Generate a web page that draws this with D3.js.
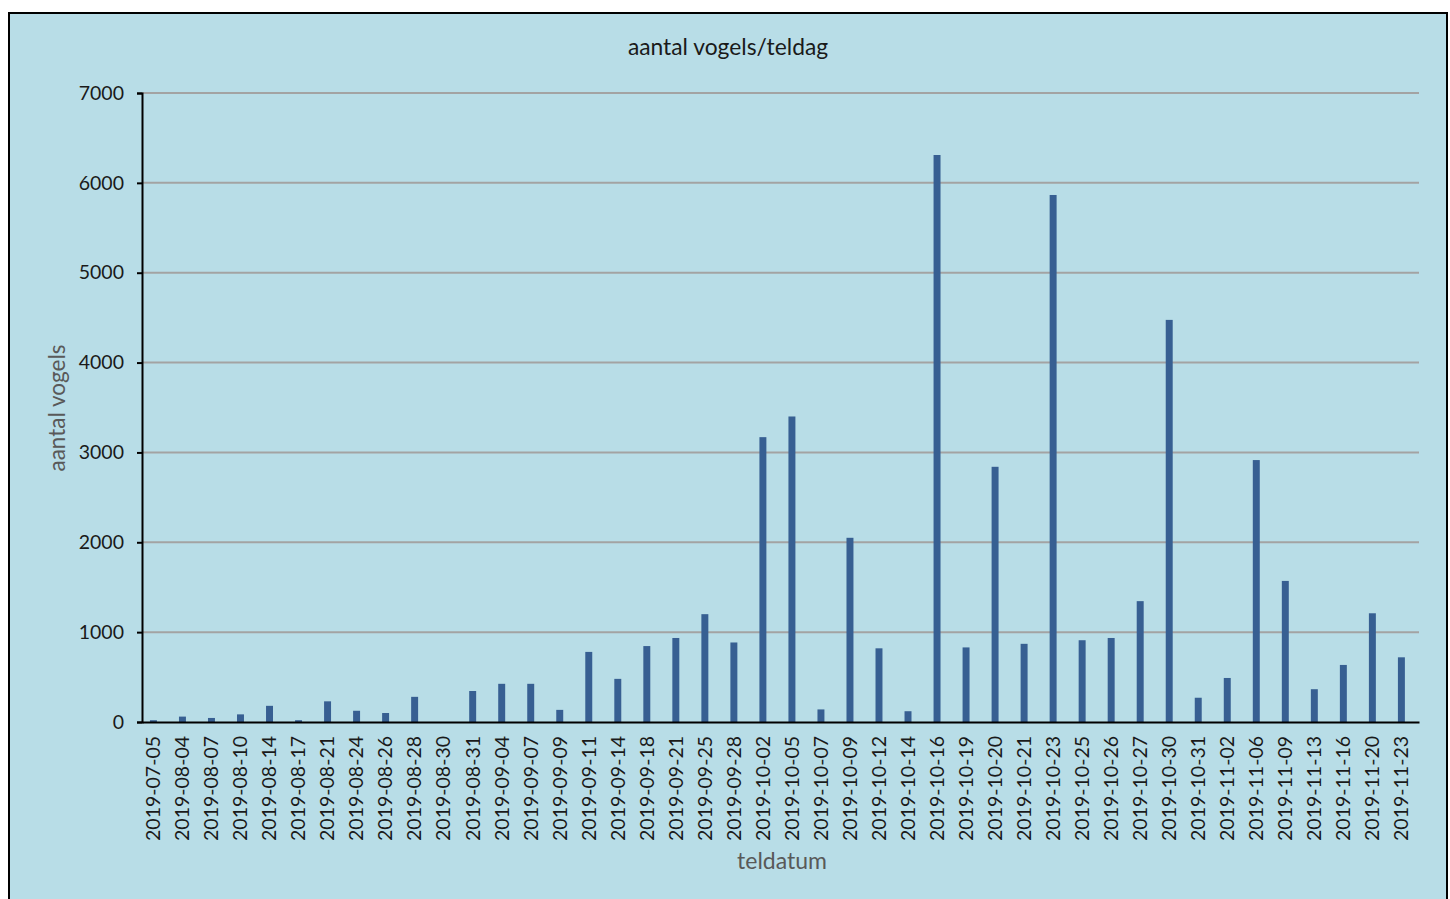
<!DOCTYPE html>
<html>
<head>
<meta charset="utf-8">
<script src="https://cdn.jsdelivr.net/npm/d3@7"></script>
<style>
  body { margin: 0; background: #fff; }
  text { font-family: Lato, "Open Sans", sans-serif; }
</style>
</head>
<body>
<svg id="chart" width="1450" height="899"></svg>
<script>
// teldagen en aantallen
const dates = [
  '2019-07-05', '2019-08-04', '2019-08-07', '2019-08-10', '2019-08-14', '2019-08-17',
  '2019-08-21', '2019-08-24', '2019-08-26', '2019-08-28', '2019-08-30', '2019-08-31',
  '2019-09-04', '2019-09-07', '2019-09-09', '2019-09-11', '2019-09-14', '2019-09-18',
  '2019-09-21', '2019-09-25', '2019-09-28', '2019-10-02', '2019-10-05', '2019-10-07',
  '2019-10-09', '2019-10-12', '2019-10-14', '2019-10-16', '2019-10-19', '2019-10-20',
  '2019-10-21', '2019-10-23', '2019-10-25', '2019-10-26', '2019-10-27', '2019-10-30',
  '2019-10-31', '2019-11-02', '2019-11-06', '2019-11-09', '2019-11-13', '2019-11-16',
  '2019-11-20', '2019-11-23'
];
const birds = [
  20, 60, 45, 85, 180, 20, 230, 125, 100, 280, 0, 345,
  425, 425, 135, 780, 480, 845, 935, 1200, 885, 3170, 3400, 140,
  2050, 820, 120, 6310, 830, 2840, 870, 5865, 910, 935, 1345, 4475,
  270, 490, 2915, 1570, 365, 635, 1210, 720
];
const yTicks = [0, 1000, 2000, 3000, 4000, 5000, 6000, 7000];

const svg = d3.select('#chart');

// achtergrond + kader
svg.append('rect')
  .attr('x', 9).attr('y', 13)
  .attr('width', 1438).attr('height', 900)
  .attr('fill', '#b8dde7')
  .attr('stroke', '#000')
  .attr('stroke-width', 2);

const plotL = 142, plotR = 1419, plotT = 93, plotB = 722;

const x = d3.scaleBand()
  .domain(dates)
  .range([plotL, plotR])
  .paddingInner(0.76)
  .paddingOuter(0.38)
  .align(0.36);

const y = d3.scaleLinear()
  .domain([0, 7000])
  .range([plotB, plotT]);

// rasterlijnen
svg.append('g')
  .selectAll('line')
  .data(yTicks.filter(d => d > 0))
  .enter().append('line')
    .attr('x1', plotL).attr('x2', plotR)
    .attr('y1', d => y(d)).attr('y2', d => y(d))
    .attr('stroke', '#a3a3a3')
    .attr('stroke-width', 2);

// staven
svg.append('g')
  .selectAll('rect')
  .data(birds)
  .enter().append('rect')
    .attr('x', (d, i) => x(dates[i]))
    .attr('y', d => y(d))
    .attr('width', x.bandwidth())
    .attr('height', d => plotB - y(d))
    .attr('fill', '#375f92');

// y-as
const yAxis = svg.append('g')
  .attr('transform', `translate(${plotL},0)`)
  .call(d3.axisLeft(y).tickValues(yTicks).tickSize(5).tickPadding(13).tickFormat(d3.format('d')));
yAxis.select('.domain').attr('stroke', '#000').attr('stroke-width', 2);
yAxis.selectAll('.tick line').attr('stroke', '#000').attr('stroke-width', 2);
yAxis.selectAll('.tick text')
  .attr('fill', '#1a1a1a')
  .style('font-size', '19.5px');

// x-as
const xAxis = svg.append('g')
  .attr('transform', `translate(0,${plotB})`)
  .call(d3.axisBottom(x).tickSize(0).tickSizeOuter(0).tickPadding(0));
xAxis.select('.domain').attr('stroke', '#000').attr('stroke-width', 2);
xAxis.selectAll('.tick text')
  .attr('fill', '#1a1a1a')
  .style('font-size', '19.5px')
  .attr('text-anchor', 'end')
  .attr('dy', '0.35em')
  .attr('transform', 'translate(0,14) rotate(-90)');

// titels
svg.append('text')
  .attr('x', 728).attr('y', 55)
  .attr('text-anchor', 'middle')
  .attr('fill', '#1a1a1a')
  .style('font-size', '22.8px')
  .text('aantal vogels/teldag');

svg.append('text')
  .attr('x', 782).attr('y', 869)
  .attr('text-anchor', 'middle')
  .attr('fill', '#595959')
  .style('font-size', '23px')
  .text('teldatum');

svg.append('text')
  .attr('transform', 'translate(65,408) rotate(-90)')
  .attr('text-anchor', 'middle')
  .attr('fill', '#595959')
  .style('font-size', '22.5px')
  .text('aantal vogels');
</script>
</body>
</html>
